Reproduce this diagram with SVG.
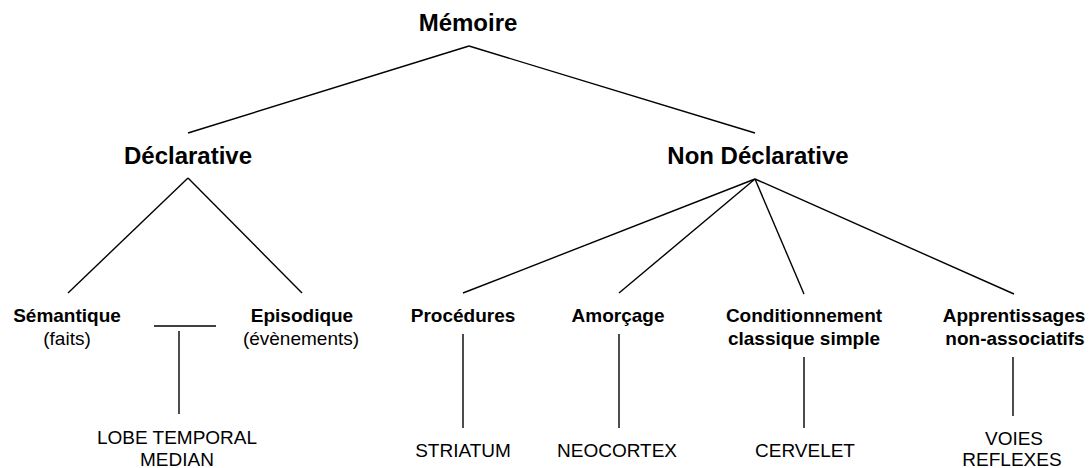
<svg xmlns="http://www.w3.org/2000/svg" width="1091" height="468" viewBox="0 0 1091 468">
<style>
text{font-family:"Liberation Sans",Arial,sans-serif;fill:#000;text-anchor:middle}
.h{font-size:24px;font-weight:bold}
.b{font-size:19px;font-weight:bold}
.r{font-size:19px}
.c line{stroke:#000;stroke-width:1.4;fill:none}
</style>
<rect width="1091" height="468" fill="#fff"/>
<g class="c" id="connectors">
<line x1="469" y1="46" x2="188" y2="133"/>
<line x1="469" y1="46" x2="755" y2="133"/>
<line x1="188" y1="178" x2="68" y2="293"/>
<line x1="188" y1="178" x2="302" y2="293"/>
<line x1="755" y1="179" x2="463" y2="293"/>
<line x1="755" y1="179" x2="619" y2="293"/>
<line x1="755" y1="179" x2="804" y2="294"/>
<line x1="755" y1="179" x2="1014" y2="294"/>
<line x1="154" y1="326" x2="216" y2="326"/>
<line x1="179" y1="331" x2="179" y2="414"/>
<line x1="463" y1="334" x2="463" y2="428"/>
<line x1="619" y1="334" x2="619" y2="428"/>
<line x1="804" y1="357" x2="804" y2="428"/>
<line x1="1013" y1="357" x2="1013" y2="416"/>
</g>
<g id="memoire"><text class="h" x="468" y="31">Mémoire</text></g>
<g id="declarative"><text class="h" x="188" y="164">Déclarative</text></g>
<g id="nondeclarative"><text class="h" x="758" y="164">Non Déclarative</text></g>
<g id="semantique"><text class="b" x="67" y="322">Sémantique</text><text class="r" x="67" y="345">(faits)</text></g>
<g id="episodique"><text class="b" x="302" y="322">Episodique</text><text class="r" x="301" y="345">(évènements)</text></g>
<g id="procedures"><text class="b" x="463" y="322">Procédures</text></g>
<g id="amorcage"><text class="b" x="618" y="322">Amorçage</text></g>
<g id="conditionnement"><text class="b" x="804" y="322">Conditionnement</text><text class="b" x="804" y="345">classique simple</text></g>
<g id="apprentissages"><text class="b" x="1014" y="322">Apprentissages</text><text class="b" x="1015" y="345">non-associatifs</text></g>
<g id="lobe"><text class="r" x="177" y="444">LOBE TEMPORAL</text><text class="r" x="177" y="466">MEDIAN</text></g>
<g id="striatum"><text class="r" x="463" y="457">STRIATUM</text></g>
<g id="neocortex"><text class="r" x="617" y="457">NEOCORTEX</text></g>
<g id="cervelet"><text class="r" x="805" y="457">CERVELET</text></g>
<g id="voies"><text class="r" x="1014" y="445">VOIES</text><text class="r" x="1012" y="466">REFLEXES</text></g>
</svg>
